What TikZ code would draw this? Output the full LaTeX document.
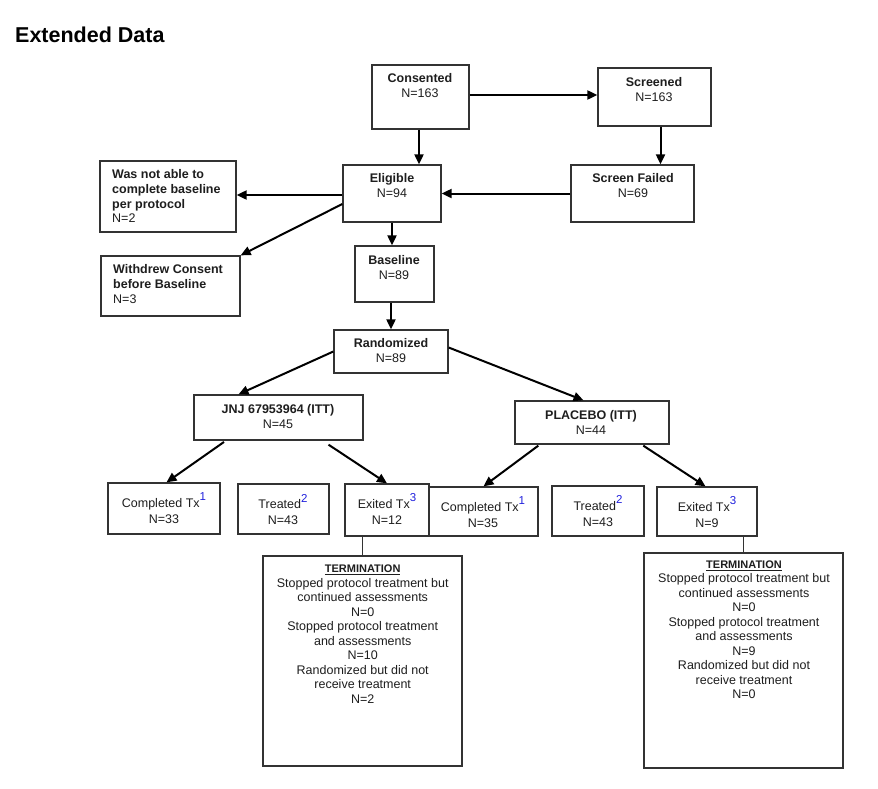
\documentclass[tikz,border=0pt]{standalone}
\usepackage{fontspec}
\setmainfont{Liberation Sans}
\usetikzlibrary{arrows.meta,fit}
\definecolor{boxline}{HTML}{333333}
\definecolor{txtcol}{HTML}{1E1E1E}
\definecolor{supblue}{HTML}{2020DD}
\newcommand{\supnum}[1]{\smash{\raisebox{6.5pt}{\fontsize{11.5}{10}\selectfont\color{supblue}#1}}}
\begin{document}
\begin{tikzpicture}[x=1pt,y=-1pt,
  box/.style={draw=boxline, line width=1.3pt, inner sep=0pt},
  txt/.style={anchor=north, inner sep=0pt, align=center, text=txtcol, font=\fontsize{12.5}{15}\selectfont},
  stxt/.style={txt, font=\fontsize{12.5}{16}\selectfont},
  ltxt/.style={anchor=north west, inner sep=0pt, align=left, text=txtcol, font=\fontsize{12.5}{14.7}\selectfont},
  ttxt/.style={txt, font=\fontsize{12.5}{14.5}\selectfont},
  arr/.style={draw=black, line width=2pt, -{Triangle[length=10pt,width=9pt]}},
  conn/.style={draw=boxline, line width=1.3pt}
  ]
\useasboundingbox[fill=white] (0,0) rectangle (878,788);

\node[anchor=base west, inner sep=0pt, font=\fontsize{21.5}{24}\selectfont\bfseries] (title) at (15,42) {Extended Data};

% boxes
\node[box, fit={(372,65) (469,129)}] (cons) {};
\node[box, fit={(598,68) (711,126)}] (scr) {};
\node[box, fit={(343,165) (441,222)}] (elig) {};
\node[box, fit={(571,165) (694,222)}] (sfail) {};
\node[box, fit={(355,246) (434,302)}] (base) {};
\node[box, fit={(100,161) (236,232)}] (wna) {};
\node[box, fit={(101,256) (240,316)}] (wd) {};
\node[box, fit={(334,330) (448,373)}] (rand) {};
\node[box, fit={(194,395) (363,440)}] (jnj) {};
\node[box, fit={(515,401) (669,444)}] (plc) {};
\node[box, fit={(108,483) (220,534)}] (c1) {};
\node[box, fit={(238,484) (329,534)}] (t1) {};
\node[box, fit={(345,484) (429,536)}] (e1) {};
\node[box, fit={(429,487) (538,536)}] (c2) {};
\node[box, fit={(552,486) (644,536)}] (t2) {};
\node[box, fit={(657,487) (757,536)}] (e2) {};
\node[box, fit={(263,556) (462,766)}] (term1) {};
\node[box, fit={(644,553) (843,768)}] (term2) {};

% texts
\node[txt] (consT) at (420,73) {\textbf{Consented}\\N=163};
\node[txt] (scrT) at (654,77) {\textbf{Screened}\\N=163};
\node[txt] (eligT) at (392,173) {\textbf{Eligible}\\N=94};
\node[txt] (sfailT) at (633,173) {\textbf{Screen Failed}\\N=69};
\node[txt] (baseT) at (394,255) {\textbf{Baseline}\\N=89};
\node[ltxt] (wnaT) at (112,169.5) {\textbf{Was not able to}\\\textbf{complete baseline}\\\textbf{per protocol}\\N=2};
\node[ltxt] (wdT) at (113,264.5) {\textbf{Withdrew Consent}\\\textbf{before Baseline}\\N=3};
\node[txt] (randT) at (391,338.5) {\textbf{Randomized}\\N=89};
\node[txt] (jnjT) at (278,404.5) {\textbf{JNJ 67953964 (ITT)}\\N=45};
\node[txt] (plcT) at (591,410) {\textbf{PLACEBO (ITT)}\\N=44};
\node[stxt] (c1T) at (164,498) {Completed Tx\supnum{1}\\N=33};
\node[stxt] (t1T) at (283,499.5) {Treated\supnum{2}\\N=43};
\node[stxt] (e1T) at (387,499) {Exited Tx\supnum{3}\\N=12};
\node[stxt] (c2T) at (483,502) {Completed Tx\supnum{1}\\N=35};
\node[stxt] (t2T) at (598,501) {Treated\supnum{2}\\N=43};
\node[stxt] (e2T) at (707,502) {Exited Tx\supnum{3}\\N=9};
\node[ttxt] (term1T) at (362.7,565) {{\fontsize{11}{14.5}\selectfont\underline{\textbf{TERMINATION}}}\\Stopped protocol treatment but\\continued assessments\\N=0\\Stopped protocol treatment\\and assessments\\N=10\\Randomized but did not\\receive treatment\\N=2};
\node[ttxt] (term2T) at (744,560.5) {{\fontsize{11}{14.5}\selectfont\underline{\textbf{TERMINATION}}}\\Stopped protocol treatment but\\continued assessments\\N=0\\Stopped protocol treatment\\and assessments\\N=9\\Randomized but did not\\receive treatment\\N=0};

% connectors
\draw[arr] ([xshift=-1.5pt]cons.south) -- ([xshift=-1.5pt]cons.south |- elig.north);
\draw[arr] ([yshift=2pt]cons.east) -- ([yshift=2pt]scr.west);
\draw[arr] ([xshift=6pt]scr.south) -- ([xshift=6pt]scr.south |- sfail.north);
\draw[arr] (sfail.west) -- (elig.east);
\draw[arr] ([yshift=-1.5pt]elig.west) -- ([yshift=-1.5pt]wna.east |- elig.west);
\draw[arr] ([yshift=-10.5pt]elig.west) -- (wd.north east);
\draw[arr] (elig.south) -- (elig.south |- base.north);
\draw[arr] (rand.north |- base.south) -- (rand.north);
\draw[arr] (rand.west) -- ([xshift=-40pt]jnj.north);
\draw[arr] ([yshift=4pt]rand.east) -- ([xshift=-8.5pt]plc.north);
\draw[arr] ([xshift=-54.5pt,yshift=-1.3pt]jnj.south) -- ([xshift=2.5pt]c1.north);
\draw[arr] ([xshift=50pt,yshift=-4pt]jnj.south) -- (e1.north);
\draw[arr] ([xshift=-53.7pt,yshift=-1pt]plc.south) -- (c2.north);
\draw[arr] ([xshift=51.3pt,yshift=-1pt]plc.south) -- ([xshift=-1.5pt]e2.north);
\draw[conn] (term1.north |- e1.south) -- (term1.north);
\draw[conn] (term2.north |- e2.south) -- (term2.north);
\end{tikzpicture}
\end{document}
